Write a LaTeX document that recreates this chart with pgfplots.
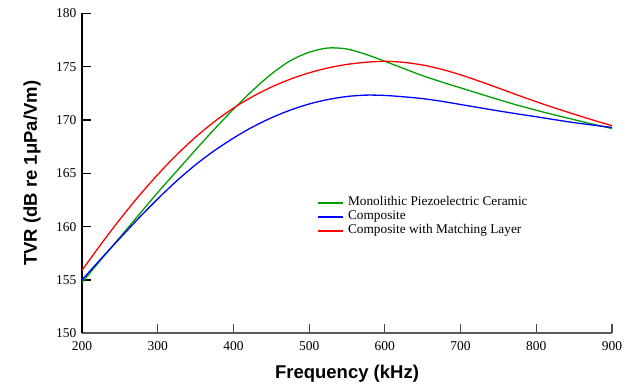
\documentclass[border=0pt]{standalone}
\usepackage{fontspec}
\setmainfont{Liberation Serif}
\newfontfamily\arial{Liberation Sans}
\usepackage{pgfplots}
\pgfplotsset{compat=1.18}
\definecolor{cgreen}{RGB}{0,160,0}
\definecolor{cblue}{RGB}{0,0,255}
\definecolor{cred}{RGB}{255,0,0}
\begin{document}
\begin{tikzpicture}
\begin{axis}[
  scale only axis,
  width=530pt, height=320pt,
  xmin=200, xmax=900, ymin=150, ymax=180,
  xtick={200,300,...,900}, ytick={150,155,...,180},
  axis lines*=left,
  axis line style={-},
  x axis line style={draw=black!65, line width=1.8pt},
  y axis line style={draw=black, line width=1.2pt},
  tick align=inside,
  major tick length=9pt,
  xtick style={draw=black!70, line width=1.2pt},
  ytick style={draw=black, line width=1.2pt},
  tick label style={font=\fontsize{13.5}{14}\selectfont},
  /pgf/number format/assume math mode=true,
  xticklabel style={/pgf/number format/1000 sep={}, yshift=-5pt},
  yticklabel style={xshift=-2pt},
  xlabel={\arial\bfseries Frequency (kHz)},
  ylabel={\arial\bfseries TVR (dB re 1μPa/Vm)},
  label style={font=\fontsize{18.5}{20}\selectfont},
  xlabel style={at={(axis description cs:0.5,-0.125)}, anchor=center},
  ylabel style={at={(axis description cs:-0.0943,0.5)}, anchor=center},
  legend style={draw=none, fill=none, at={(axis cs:510,162.9)}, anchor=north west,
    inner sep=0pt, row sep=0pt, column sep=4pt,
    nodes={inner sep=1pt, text height=9pt, text depth=3pt},
    font=\fontsize{13.3}{14}\selectfont},
  legend cell align=left,
  legend image code/.code={\draw[#1, line width=1.2pt] (0pt,0pt) -- (25pt,0pt);},
]
\addplot[cgreen, line width=1.3pt, smooth] coordinates {
(200,154.75) (225,156.9) (250,159.0) (275,161.1) (300,163.2) (325,165.2) (350,167.2)
(375,169.15) (400,171.0) (425,172.75) (450,174.3) (475,175.55) (500,176.35) (525,176.75)
(550,176.65) (575,176.15) (600,175.5) (625,174.82) (650,174.15) (675,173.56)
(700,173.01) (725,172.46) (750,171.91) (775,171.39) (800,170.91) (825,170.46) (850,170.03)
(875,169.6) (900,169.2)
};
\addlegendentry{Monolithic Piezoelectric Ceramic}
\addplot[cblue, line width=1.3pt, smooth] coordinates {
(200,155.0) (225,156.98) (250,158.9) (275,160.8) (300,162.6) (325,164.28) (350,165.8)
(375,167.13) (400,168.3) (425,169.33) (450,170.2) (475,170.92) (500,171.5) (525,171.92)
(550,172.2) (575,172.33) (600,172.3) (625,172.17) (650,172.0) (675,171.75) (700,171.45)
(725,171.15) (750,170.85) (775,170.57) (800,170.3) (825,170.02) (850,169.75) (875,169.52)
(900,169.3)
};
\addlegendentry{Composite}
\addplot[cred, line width=1.3pt, smooth] coordinates {
(200,155.9) (225,158.35) (250,160.68) (275,162.86) (300,164.88) (325,166.73) (350,168.39)
(375,169.85) (400,171.11) (425,172.18) (450,173.08) (475,173.82) (500,174.42) (525,174.88)
(550,175.21) (575,175.41) (600,175.5) (625,175.4) (650,175.15) (675,174.75) (700,174.23)
(725,173.63) (750,172.99) (775,172.34) (800,171.71) (825,171.11) (850,170.54) (875,169.99)
(900,169.46)
};
\addlegendentry{Composite with Matching Layer}
\end{axis}
\pgfresetboundingbox
\path ([shift={(-82pt,-50.7pt)}]current axis.south west) rectangle ([shift={(19pt,13.3pt)}]current axis.north east);
\end{tikzpicture}
\end{document}
